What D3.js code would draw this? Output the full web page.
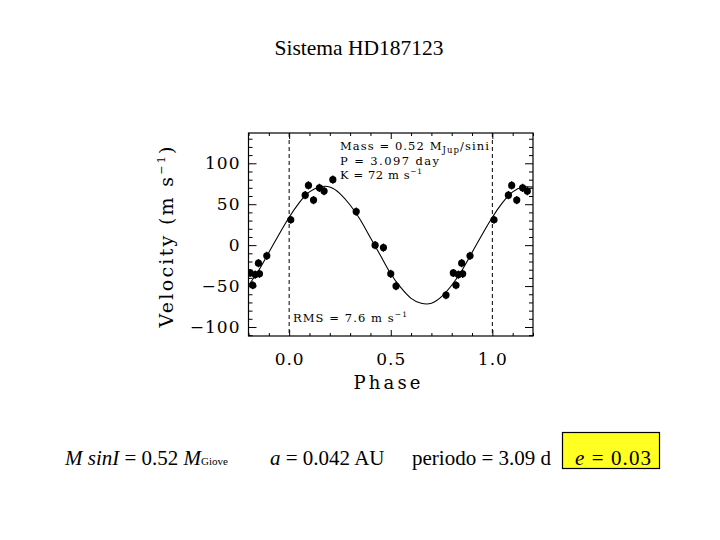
<!DOCTYPE html>
<html>
<head>
<meta charset="utf-8">
<script src="https://cdn.jsdelivr.net/npm/d3@7"></script>
<style>
  html, body { margin: 0; padding: 0; background: #fff; }
  svg { display: block; }
</style>
</head>
<body>
<svg id="chart" width="720" height="540"></svg>
<script>
// ---- data ----
const title = "Sistema HD187123";
// observed velocities folded in phase (0..1)
const obsPhase = [0.008, 0.079, 0.095, 0.120, 0.149, 0.172, 0.215, 0.330, 0.423, 0.464, 0.500, 0.526, 0.772, 0.808, 0.821, 0.833, 0.854, 0.849, 0.890];
const obsVel   = [31, 61, 73, 55, 70, 66, 80, 41, 0, -3, -35, -50, -61, -34, -49, -36, -35, -22, -13];
// fitted orbit curve (phase, velocity)
const curvePhase = [-0.20, -0.15, -0.10, -0.05, 0.00, 0.05, 0.10, 0.15, 0.20, 0.25, 0.30, 0.35, 0.40, 0.45, 0.50, 0.55, 0.60, 0.65, 0.70, 0.75, 0.80, 0.85, 0.90, 0.95, 1.00, 1.05, 1.10, 1.15, 1.20];
const curveVel   = [-49, -31, -9, 13, 34, 52, 65, 71, 71, 63, 49, 31, 9, -13, -35, -52, -65, -71, -71, -63, -49, -31, -9, 13, 34, 52, 65, 71, 71];
const xMajorTicks = [0.0, 0.5, 1.0];
const yMajorTicks = [-100, -50, 0, 50, 100];
const xMinorTicks = [-0.2, -0.1, 0.1, 0.2, 0.3, 0.4, 0.6, 0.7, 0.8, 0.9, 1.1, 1.2];
const yMinorTicks = [-110, -90, -80, -70, -60, -40, -30, -20, -10, 10, 20, 30, 40, 60, 70, 80, 90, 110, 120, 130];
const phaseMarks = [0.0, 1.0];
const errBar = 5;

// ---- layout ----
const svg = d3.select("#chart");
const L = 248.5, R = 533, T = 133, B = 336;
const x = d3.scaleLinear().domain([-0.2, 1.2]).range([L, R]);
const y = d3.scaleLinear().domain([-111, 137]).range([B, T]);
const plotFont = "'DejaVu Serif', serif";
const textFont = "'Liberation Serif', 'Times New Roman', serif";

// title
svg.append("text").attr("x", 359).attr("y", 55).attr("text-anchor", "middle")
  .attr("font-family", textFont).attr("font-size", 21.5).text(title);

// clip
svg.append("clipPath").attr("id", "clip").append("rect")
  .attr("x", L).attr("y", T).attr("width", R - L).attr("height", B - T);

// axes
function styleAxis(g) {
  g.select(".domain").remove();
  g.selectAll("line").attr("stroke", "#000").attr("stroke-width", 1);
  g.selectAll("text").attr("font-family", plotFont).attr("fill", "#000");
}
svg.append("g").attr("transform", `translate(${L},0)`)
  .call(d3.axisLeft(y).tickValues(yMajorTicks).tickSize(-8).tickPadding(8).tickFormat(d3.format("d")))
  .call(styleAxis)
  .selectAll("text").attr("font-size", 17).attr("letter-spacing", 1);
svg.append("g").attr("transform", `translate(${L},0)`)
  .call(d3.axisLeft(y).tickValues(yMinorTicks).tickSize(-4).tickFormat("")).call(styleAxis);
svg.append("g").attr("transform", `translate(${R},0)`)
  .call(d3.axisRight(y).tickValues(yMajorTicks).tickSize(-8).tickFormat("")).call(styleAxis);
svg.append("g").attr("transform", `translate(${R},0)`)
  .call(d3.axisRight(y).tickValues(yMinorTicks).tickSize(-4).tickFormat("")).call(styleAxis);
svg.append("g").attr("transform", `translate(0,${B})`)
  .call(d3.axisBottom(x).tickValues(xMajorTicks).tickSize(-6).tickPadding(17).tickFormat(d3.format(".1f")))
  .call(styleAxis)
  .selectAll("text").attr("font-size", 17).attr("letter-spacing", 1);
svg.append("g").attr("transform", `translate(0,${B})`)
  .call(d3.axisBottom(x).tickValues(xMinorTicks).tickSize(-3).tickFormat("")).call(styleAxis);
svg.append("g").attr("transform", `translate(0,${T})`)
  .call(d3.axisTop(x).tickValues(xMajorTicks).tickSize(-6).tickFormat("")).call(styleAxis);
svg.append("g").attr("transform", `translate(0,${T})`)
  .call(d3.axisTop(x).tickValues(xMinorTicks).tickSize(-3).tickFormat("")).call(styleAxis);

// frame
svg.append("rect").attr("x", L).attr("y", T).attr("width", R - L).attr("height", B - T)
  .attr("fill", "none").attr("stroke", "#000").attr("stroke-width", 1.2);

// axis titles
svg.append("text").attr("x", 387).attr("y", 389).attr("text-anchor", "middle")
  .attr("font-family", plotFont).attr("font-size", 18).attr("textLength", 67).attr("lengthAdjust", "spacing")
  .text("Phase");
const yl = svg.append("text").attr("transform", "translate(173,237) rotate(-90)")
  .attr("text-anchor", "middle").attr("font-family", plotFont).attr("font-size", 19)
  .attr("textLength", 181).attr("lengthAdjust", "spacing");
yl.append("tspan").text("Velocity (m s");
yl.append("tspan").attr("font-size", 11).attr("dy", -8).text("−1");
yl.append("tspan").attr("dy", 8).text(")");

// dashed phase markers
const plot = svg.append("g").attr("clip-path", "url(#clip)");
plot.selectAll("line.mark").data(phaseMarks).join("line")
  .attr("x1", d => x(d)).attr("x2", d => x(d)).attr("y1", T).attr("y2", B)
  .attr("stroke", "#000").attr("stroke-width", 1).attr("stroke-dasharray", "4,3");

// fitted curve
const curveData = curvePhase.map((p, i) => [p, curveVel[i]]);
plot.append("path").datum(curveData)
  .attr("fill", "none").attr("stroke", "#000").attr("stroke-width", 1.1)
  .attr("d", d3.line().x(d => x(d[0])).y(d => y(d[1])).curve(d3.curveNatural));

// observations: folded data plus their repeats one cycle before / after
const obs = obsPhase.map((p, i) => ({ p, v: obsVel[i] }));
const shown = [];
obs.forEach(d => {
  [-1, 0, 1].forEach(k => {
    const pp = d.p + k;
    if (pp >= -0.2 && pp <= 1.2) shown.push({ p: pp, v: d.v });
  });
});
plot.selectAll("line.err").data(shown).join("line")
  .attr("x1", d => x(d.p)).attr("x2", d => x(d.p))
  .attr("y1", d => y(d.v - errBar)).attr("y2", d => y(d.v + errBar))
  .attr("stroke", "#000").attr("stroke-width", 1.3);
plot.selectAll("circle.pt").data(shown).join("circle")
  .attr("cx", d => x(d.p)).attr("cy", d => y(d.v)).attr("r", 3.6).attr("fill", "#000");

// annotations inside plot
const ann = svg.append("g").attr("font-family", plotFont).attr("font-size", 11.5).attr("fill", "#000");
const a1 = ann.append("text").attr("x", 340).attr("y", 150).attr("textLength", 149).attr("lengthAdjust", "spacing");
a1.append("tspan").text("Mass = 0.52 M");
a1.append("tspan").attr("font-size", 8.5).attr("dy", 3).text("Jup");
a1.append("tspan").attr("dy", -3).text("/sini");
ann.append("text").attr("x", 340).attr("y", 164.5).attr("textLength", 99).attr("lengthAdjust", "spacing")
  .text("P = 3.097 day");
const a3 = ann.append("text").attr("x", 340).attr("y", 178.5).attr("textLength", 82).attr("lengthAdjust", "spacing");
a3.append("tspan").text("K = 72 m s");
a3.append("tspan").attr("font-size", 7.5).attr("dy", -5).text("−1");
const a4 = ann.append("text").attr("x", 293).attr("y", 322).attr("textLength", 114).attr("lengthAdjust", "spacing");
a4.append("tspan").text("RMS = 7.6 m s");
a4.append("tspan").attr("font-size", 7.5).attr("dy", -5).text("−1");

// bottom line of text
svg.append("rect").attr("x", 562.5).attr("y", 432.5).attr("width", 97).attr("height", 36)
  .attr("fill", "#ffff22").attr("stroke", "#000").attr("stroke-width", 1.2);
const bt = svg.append("g").attr("font-family", textFont).attr("font-size", 21).attr("fill", "#000");
const t1 = bt.append("text").attr("x", 65).attr("y", 465);
t1.append("tspan").attr("font-style", "italic").text("M sinI");
t1.append("tspan").text(" = 0.52 ");
t1.append("tspan").attr("font-style", "italic").text("M");
t1.append("tspan").attr("font-size", 11).text("Giove");
const t2 = bt.append("text").attr("x", 270).attr("y", 465);
t2.append("tspan").attr("font-style", "italic").text("a");
t2.append("tspan").text(" = 0.042 AU");
bt.append("text").attr("x", 412).attr("y", 465).text("periodo = 3.09 d");
const t3 = bt.append("text").attr("x", 575).attr("y", 465).attr("textLength", 76).attr("lengthAdjust", "spacing");
t3.append("tspan").attr("font-style", "italic").text("e");
t3.append("tspan").text(" = 0.03");
</script>
</body>
</html>
